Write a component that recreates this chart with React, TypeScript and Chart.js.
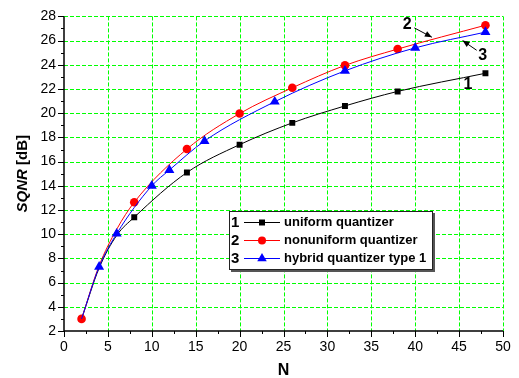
import React, { useEffect, useRef } from "react";
import { Chart, registerables } from "chart.js";

Chart.register(...registerables);

// ---- data ----
const uniformN = [2, 4, 6, 8, 14, 20, 26, 32, 38, 48];
const uniformSQNR = [3, 7.2, 9.9, 11.4, 15.1, 17.4, 19.2, 20.6, 21.8, 23.3];
const uniformShown = [1, 0, 0, 1, 1, 1, 1, 1, 1, 1];

const nonuniformN = [2, 4, 6, 8, 14, 20, 26, 32, 38, 48];
const nonuniformSQNR = [3, 7.4, 10.4, 12.64, 17.04, 19.97, 22.1, 23.95, 25.3, 27.27];
const nonuniformShown = [1, 0, 0, 1, 1, 1, 1, 1, 1, 1];

const hybridN = [2, 4, 6, 10, 12, 16, 24, 32, 40, 48];
const hybridSQNR = [3, 7.3, 10.04, 14.0, 15.3, 17.7, 20.95, 23.5, 25.4, 26.7];
const hybridShown = [0, 1, 1, 1, 1, 1, 1, 1, 1, 1];

const legendNumbers = ["1", "2", "3"];
const legendLabels = ["uniform quantizer", "nonuniform quantizer", "hybrid quantizer type 1"];

const X_MIN = 0, X_MAX = 50, X_STEP = 5;
const Y_MIN = 2, Y_MAX = 28, Y_STEP = 2;
const X_TITLE = "N";
const Y_TITLE_ITALIC = "SQNR";
const Y_TITLE_REST = " [dB]";

const FONT = "Arial, 'Liberation Sans', Helvetica, sans-serif";
const COLORS = ["#000000", "#ff0000", "#0000ff"];
const STYLES = ["rect", "circle", "triangle"];

function pts(xs: number[], ys: number[]) {
  return xs.map((v, i) => ({ x: v, y: ys[i] }));
}

function drawMarker(ctx: CanvasRenderingContext2D, style: string, x: number, y: number, color: string) {
  ctx.save();
  ctx.fillStyle = color;
  ctx.beginPath();
  if (style === "rect") {
    ctx.rect(x - 3, y - 3, 6, 6);
  } else if (style === "circle") {
    ctx.arc(x, y, 4, 0, Math.PI * 2);
  } else {
    const r = 5.5;
    ctx.moveTo(x, y - r);
    ctx.lineTo(x + r * 0.866, y + r * 0.5);
    ctx.lineTo(x - r * 0.866, y + r * 0.5);
    ctx.closePath();
  }
  ctx.fill();
  ctx.restore();
}

function arrow(ctx: CanvasRenderingContext2D, x1: number, y1: number, x2: number, y2: number) {
  ctx.save();
  ctx.strokeStyle = "#000";
  ctx.fillStyle = "#000";
  ctx.lineWidth = 1;
  ctx.beginPath();
  ctx.moveTo(x1, y1);
  ctx.lineTo(x2, y2);
  ctx.stroke();
  const ang = Math.atan2(y2 - y1, x2 - x1);
  const L = 7, W = 3;
  ctx.beginPath();
  ctx.moveTo(x2, y2);
  ctx.lineTo(x2 - L * Math.cos(ang) + W * Math.sin(ang), y2 - L * Math.sin(ang) - W * Math.cos(ang));
  ctx.lineTo(x2 - L * Math.cos(ang) - W * Math.sin(ang), y2 - L * Math.sin(ang) + W * Math.cos(ang));
  ctx.closePath();
  ctx.fill();
  ctx.restore();
}

const overlayPlugin = {
  id: "overlay",
  beforeDatasetsDraw(chart: any) {
    const { ctx, chartArea: a, scales } = chart;
    const xs = scales.x, ys = scales.y;
    ctx.save();
    ctx.strokeStyle = "#00ff00";
    ctx.lineWidth = 1;
    ctx.setLineDash([4, 2]);
    for (let v = X_MIN + X_STEP; v <= X_MAX + 1e-9; v += X_STEP) {
      const px = Math.round(xs.getPixelForValue(v)) + 0.5;
      ctx.beginPath();
      ctx.moveTo(px, a.top);
      ctx.lineTo(px, a.bottom);
      ctx.stroke();
    }
    for (let v = Y_MIN + Y_STEP; v <= Y_MAX + 1e-9; v += Y_STEP) {
      const py = Math.round(ys.getPixelForValue(v)) + 0.5;
      ctx.beginPath();
      ctx.moveTo(a.left, py);
      ctx.lineTo(a.right, py);
      ctx.stroke();
    }
    ctx.restore();
  },
  afterDatasetsDraw(chart: any) {
    const { ctx, chartArea: a, scales } = chart;
    const xs = scales.x, ys = scales.y;
    ctx.save();
    // axes
    ctx.strokeStyle = "#000";
    ctx.lineWidth = 1.5;
    ctx.beginPath();
    ctx.moveTo(a.left, a.top);
    ctx.lineTo(a.left, a.bottom);
    ctx.lineTo(a.right, a.bottom);
    ctx.stroke();
    ctx.lineWidth = 1;
    // x ticks
    for (let v = X_MIN; v <= X_MAX + 1e-9; v += X_STEP / 2) {
      const major = Math.abs(v / X_STEP - Math.round(v / X_STEP)) < 1e-6;
      const px = Math.round(xs.getPixelForValue(v)) + 0.5;
      ctx.beginPath();
      ctx.moveTo(px, a.bottom);
      ctx.lineTo(px, a.bottom + (major ? 6 : 3));
      ctx.stroke();
    }
    // y ticks
    for (let v = Y_MIN; v <= Y_MAX + 1e-9; v += Y_STEP / 2) {
      const major = Math.abs(v / Y_STEP - Math.round(v / Y_STEP)) < 1e-6;
      const py = Math.round(ys.getPixelForValue(v)) + 0.5;
      ctx.beginPath();
      ctx.moveTo(a.left, py);
      ctx.lineTo(a.left - (major ? 6 : 3), py);
      ctx.stroke();
    }

    // axis titles
    ctx.fillStyle = "#000";
    ctx.font = `bold 16px ${FONT}`;
    ctx.textAlign = "center";
    ctx.textBaseline = "middle";
    ctx.fillText(X_TITLE, (a.left + a.right) / 2, 371);

    ctx.save();
    ctx.translate(23, (a.top + a.bottom) / 2);
    ctx.rotate(-Math.PI / 2);
    ctx.textAlign = "left";
    ctx.font = `italic bold 15px ${FONT}`;
    const w1 = ctx.measureText(Y_TITLE_ITALIC).width;
    ctx.font = `bold 15px ${FONT}`;
    const w2 = ctx.measureText(Y_TITLE_REST).width;
    const start = -(w1 + w2) / 2;
    ctx.font = `italic bold 15px ${FONT}`;
    ctx.fillText(Y_TITLE_ITALIC, start, 0);
    ctx.font = `bold 15px ${FONT}`;
    ctx.fillText(Y_TITLE_REST, start + w1, 0);
    ctx.restore();

    // curve labels and arrows
    const P = (xv: number, yv: number) => [xs.getPixelForValue(xv), ys.getPixelForValue(yv)];
    ctx.font = `bold 16px ${FONT}`;
    ctx.textAlign = "center";
    ctx.textBaseline = "middle";
    let p = P(39.1, 27.35);
    ctx.fillText("2", p[0], p[1]);
    let t = P(39.9, 27.05), h = P(41.9, 26.28);
    arrow(ctx, t[0], t[1], h[0], h[1]);
    p = P(47.7, 24.8);
    ctx.fillText("3", p[0], p[1]);
    t = P(47.0, 25.2); h = P(45.4, 26.0);
    arrow(ctx, t[0], t[1], h[0], h[1]);
    p = P(46.0, 22.4);
    ctx.fillText("1", p[0], p[1]);

    // legend
    const lx = 229, ly = 211, lw = 204, lh = 59;
    ctx.fillStyle = "#555";
    ctx.fillRect(lx + 2, ly + 2, lw, lh);
    ctx.fillStyle = "#fff";
    ctx.fillRect(lx, ly, lw, lh);
    ctx.strokeStyle = "#222";
    ctx.lineWidth = 1;
    ctx.strokeRect(lx + 0.5, ly + 0.5, lw - 1, lh - 1);
    ctx.textBaseline = "middle";
    for (let i = 0; i < legendLabels.length; i++) {
      const cy = ly + 11.5 + i * 18;
      ctx.fillStyle = "#000";
      ctx.font = `bold 15px ${FONT}`;
      ctx.textAlign = "left";
      ctx.fillText(legendNumbers[i], lx + 2, cy);
      ctx.strokeStyle = COLORS[i];
      ctx.lineWidth = 1;
      ctx.beginPath();
      ctx.moveTo(lx + 15, cy);
      ctx.lineTo(lx + 51, cy);
      ctx.stroke();
      drawMarker(ctx, STYLES[i], lx + 33, cy, COLORS[i]);
      ctx.fillStyle = "#000";
      ctx.font = `bold 13px ${FONT}`;
      ctx.fillText(legendLabels[i], lx + 55, cy);
    }
    ctx.restore();
  },
};

export default function App() {
  const ref = useRef<HTMLCanvasElement | null>(null);
  useEffect(() => {
    if (!ref.current) return;
    const mk = (xs: number[], ys: number[], shown: number[], i: number, order: number, r: number) => ({
      label: legendLabels[i],
      data: pts(xs, ys),
      borderColor: COLORS[i],
      backgroundColor: COLORS[i],
      borderWidth: 1,
      pointStyle: STYLES[i],
      pointRadius: shown.map((s) => (s ? r : 0)),
      pointBorderWidth: 0,
      pointHoverRadius: 0,
      cubicInterpolationMode: "monotone" as const,
      fill: false,
      order,
    });
    const chart = new Chart(ref.current, {
      type: "line",
      data: {
        datasets: [
          mk(uniformN, uniformSQNR, uniformShown, 0, 2, 4.2),
          mk(nonuniformN, nonuniformSQNR, nonuniformShown, 1, 1, 4.3),
          mk(hybridN, hybridSQNR, hybridShown, 2, 0, 5.8),
        ] as any,
      },
      options: {
        animation: false,
        responsive: false,
        events: [],
        layout: { padding: { left: 0, top: 15, right: 16, bottom: 0 } },
        plugins: { legend: { display: false }, tooltip: { enabled: false } },
        scales: {
          x: {
            type: "linear",
            min: X_MIN,
            max: X_MAX,
            grid: { display: false, drawTicks: false },
            border: { display: false },
            ticks: { stepSize: X_STEP, color: "#000", padding: 8, font: { family: FONT, size: 14 } },
            afterFit: (s: any) => { s.height = 47; },
          },
          y: {
            type: "linear",
            min: Y_MIN,
            max: Y_MAX,
            grid: { display: false, drawTicks: false },
            border: { display: false },
            ticks: { stepSize: Y_STEP, color: "#000", padding: 8, font: { family: FONT, size: 14 } },
            afterFit: (s: any) => { s.width = 64; },
          },
        },
      },
      plugins: [overlayPlugin],
    });
    return () => chart.destroy();
  }, []);
  return (
    <div style={{ position: "absolute", left: 0, top: 0, width: 519, height: 378, background: "#fff" }}>
      <canvas ref={ref} width={519} height={378} style={{ display: "block" }} />
    </div>
  );
}
